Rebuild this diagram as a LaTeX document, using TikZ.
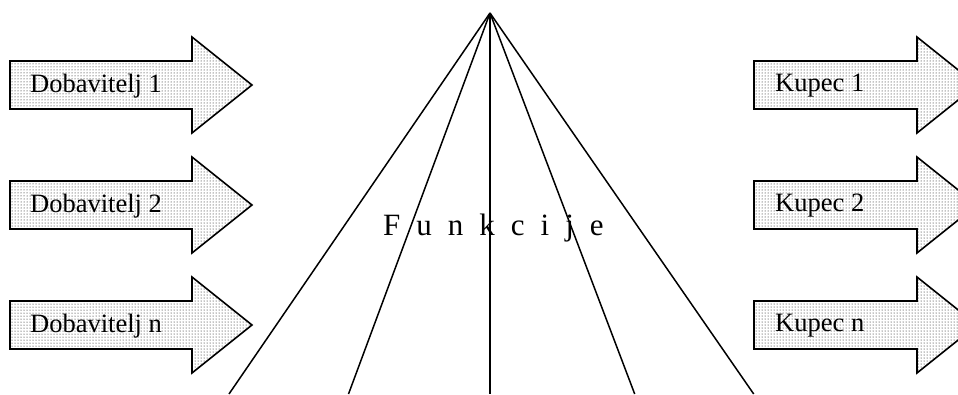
\documentclass[tikz,border=0pt]{standalone}
\usepackage{fontspec}
\setmainfont{Liberation Serif}
\usetikzlibrary{patterns}
\newcommand\wideSpaced{\spaceskip=16pt plus 0pt minus 0pt\relax}
\tikzset{
  flowArrow/.style={
    draw=black, line width=1.6pt, line join=miter,
    preaction={fill=white}, pattern=dots, pattern color=black
  },
  arrowText/.style={
    anchor=base west, inner sep=0pt,
    font=\fontsize{26.5}{30}\selectfont
  },
  funcText/.style={
    anchor=base west, inner sep=0pt,
    font=\fontsize{31}{36}\selectfont
  },
  funcLine/.style={draw=black, line width=1.5pt}
}

\begin{document}
\begin{tikzpicture}[x=1pt, y=-1pt]
\clip (0,0) rectangle (958,394);

% ── SUPPLIERS (left) ───────────────────────────────────────────────
\foreach \cy/\lbl [count=\i] in {85/1, 205/2, 325/n} {
  \path[flowArrow] (10,\cy-24) -- (192,\cy-24) -- (192,\cy-48) -- (252,\cy)
    -- (192,\cy+48) -- (192,\cy+24) -- (10,\cy+24) -- cycle;
  \node[arrowText] (dob\i) at (30,\cy+7) {Dobavitelj \lbl};
}

% ── CUSTOMERS (right) ──────────────────────────────────────────────
\foreach \cy/\lbl [count=\i] in {85/1, 205/2, 325/n} {
  \path[flowArrow] (754,\cy-24) -- (917,\cy-24) -- (917,\cy-48) -- (977,\cy)
    -- (917,\cy+48) -- (917,\cy+24) -- (754,\cy+24) -- cycle;
  \node[arrowText] (kup\i) at (775,\cy+6) {Kupec \lbl};
}

% ── FUNCTIONS (fan) ────────────────────────────────────────────────
\coordinate (apex) at (490,13);
\foreach \bx [count=\j] in {229,348.5,490,634.7,753.7}
  \coordinate (foot\j) at (\bx,394);
\foreach \j in {1,...,5}
  \draw[funcLine] (apex) -- (foot\j);

\node[funcText] (funk) at (383,235) {\wideSpaced F u n k c i j e};

\end{tikzpicture}
\end{document}
